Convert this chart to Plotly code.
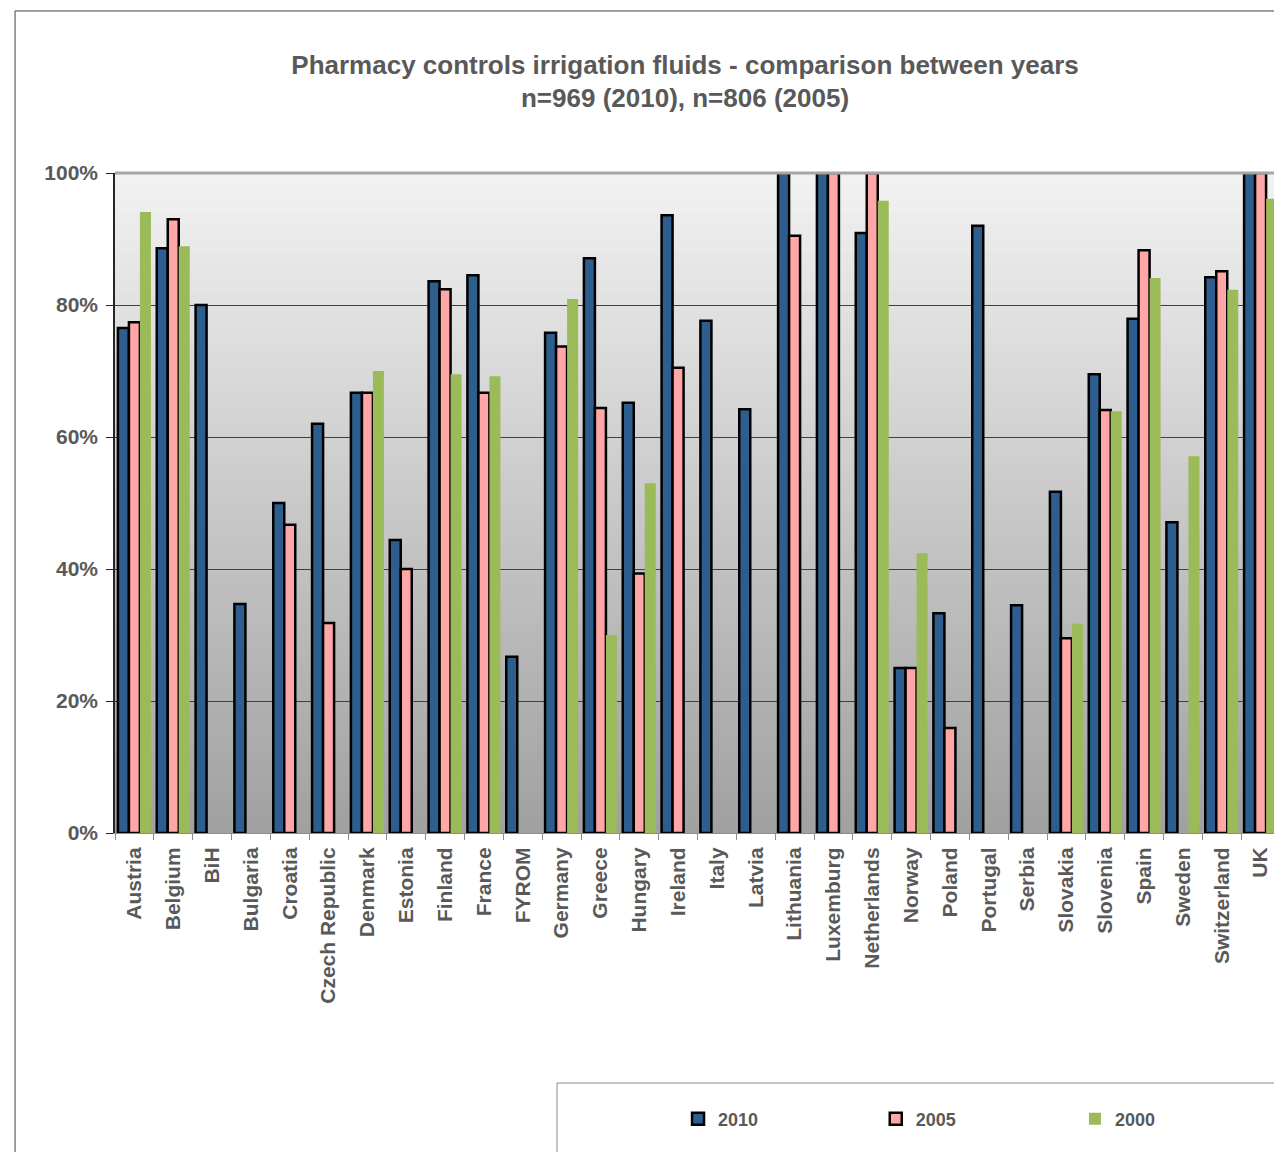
import plotly.graph_objects as go

countries = ["Austria", "Belgium", "BiH", "Bulgaria", "Croatia", "Czech Republic", "Denmark",
             "Estonia", "Finland", "France", "FYROM", "Germany", "Greece", "Hungary", "Ireland",
             "Italy", "Latvia", "Lithuania", "Luxemburg", "Netherlands", "Norway", "Poland",
             "Portugal", "Serbia", "Slovakia", "Slovenia", "Spain", "Sweden", "Switzerland", "UK"]

v2010 = [76.5, 88.6, 80.0, 34.7, 50.0, 62.0, 66.7, 44.4, 83.6, 84.5, 26.7, 75.8, 87.1, 65.2, 93.6,
         77.6, 64.2, 100.0, 100.0, 90.9, 25.0, 33.3, 92.0, 34.5, 51.7, 69.5, 77.9, 47.1, 84.2, 100.0]
v2005 = [77.4, 93.0, None, None, 46.7, 31.8, 66.7, 40.0, 82.4, 66.7, None, 73.7, 64.4, 39.3, 70.5,
         None, None, 90.5, 100.0, 100.0, 25.0, 15.9, None, None, 29.5, 64.1, 88.3, None, 85.1, 100.0]
v2000 = [94.1, 88.9, None, None, None, None, 70.0, None, 69.5, 69.2, None, 80.9, 30.0, 53.0, None,
         None, None, None, None, 95.8, 42.4, None, None, None, 31.7, 63.9, 84.1, 57.1, 82.3, 96.1]

y_ticks = [0, 20, 40, 60, 80, 100]
y_tick_labels = ["0%", "20%", "40%", "60%", "80%", "100%"]

FONT = "Liberation Sans, Arial, sans-serif"
TXT = "#595959"
W, H = 1274, 1144

fig = go.Figure()
fig.add_trace(go.Bar(name="<b>2010</b>", x=countries, y=v2010, legend="legend",
                     marker=dict(color="#2E5E8E", line=dict(color="#000000", width=2.5))))
fig.add_trace(go.Bar(name="<b>2005</b>", x=countries, y=v2005, legend="legend2",
                     marker=dict(color="#FFA6A6", line=dict(color="#000000", width=2.5))))
fig.add_trace(go.Bar(name="<b>2000</b>", x=countries, y=v2000, legend="legend3",
                     marker=dict(color="#9BBB59", line=dict(width=0))))

shapes = []
# gradient background bands
n = 66
top = (0xF2, 0xF2, 0xF2)
bot = (0xA0, 0xA0, 0xA0)
for i in range(n):
    t = (i + 0.5) / n
    c = tuple(int(round(top[k] + (bot[k] - top[k]) * t)) for k in range(3))
    shapes.append(dict(type="rect", xref="paper", yref="paper",
                       x0=0, x1=1, y0=1 - (i + 1) / n, y1=1 - i / n,
                       fillcolor="rgb(%d,%d,%d)" % c, line=dict(width=0), layer="below"))
# plot border top/right (grey)
shapes.append(dict(type="line", xref="paper", yref="paper", x0=0, x1=1, y0=1, y1=1,
                   line=dict(color="#A6A6A6", width=3)))
shapes.append(dict(type="line", xref="paper", yref="paper", x0=1, x1=1, y0=0, y1=1,
                   line=dict(color="#A6A6A6", width=2)))
# outer chart border
shapes.append(dict(type="line", xref="paper", yref="paper", x0=-0.0858, x1=1.01, y0=1.2455, y1=1.2455,
                   line=dict(color="#404040", width=1)))
shapes.append(dict(type="line", xref="paper", yref="paper", x0=-0.0858, x1=-0.0858, y0=1.2455, y1=-0.6,
                   line=dict(color="#404040", width=1)))
# legend box
shapes.append(dict(type="rect", xref="paper", yref="paper", x0=0.3794, x1=1.01, y0=-0.4894, y1=-0.3788,
                   line=dict(color="#8C8C8C", width=1), fillcolor="rgba(0,0,0,0)"))

leg_common = dict(orientation="h", y=-0.4333, yanchor="middle", xanchor="left",
                  bgcolor="rgba(0,0,0,0)", itemwidth=30,
                  font=dict(size=18, color=TXT, family=FONT))

fig.update_layout(
    width=W, height=H,
    margin=dict(l=107, r=2, t=165, b=H - 825),
    paper_bgcolor="white",
    plot_bgcolor="rgba(0,0,0,0)",
    barmode="group",
    bargap=0.15,
    bargroupgap=0,
    font=dict(family=FONT, color=TXT),
    title=dict(text="<b>Pharmacy controls irrigation fluids - comparison between years<br>n=969 (2010), n=806 (2005)</b>",
               x=0.4893, xref="paper", xanchor="center", y=1 - 65.5 / H, yref="container", yanchor="middle",
               font=dict(size=26, color=TXT, family=FONT)),
    shapes=shapes,
    showlegend=True,
    legend=dict(x=0.4833, **leg_common),
    legend2=dict(x=0.6530, **leg_common),
    legend3=dict(x=0.8240, **leg_common),
)
fig.update_xaxes(type="category", tickangle=-90, tickson="boundaries", ticks="outside", ticklen=6,
                 tickcolor="#8C8C8C", showline=True, linecolor="#8C8C8C", linewidth=1,
                 showgrid=False, tickfont=dict(size=21, color=TXT, family=FONT), ticklabelstandoff=5,
                 ticktext=["<b>%s</b>" % c for c in countries], tickvals=countries)
fig.update_yaxes(range=[0, 100], tickvals=y_ticks, ticktext=["<b>%s</b>" % t for t in y_tick_labels],
                 ticks="outside", ticklen=7, tickcolor="#262626", showline=True, linecolor="#262626",
                 linewidth=1.5, showgrid=True, gridcolor="#404040", gridwidth=1, zeroline=False,
                 ticklabelstandoff=4, tickfont=dict(size=21, color=TXT, family=FONT))

fig.write_html("out.html")
